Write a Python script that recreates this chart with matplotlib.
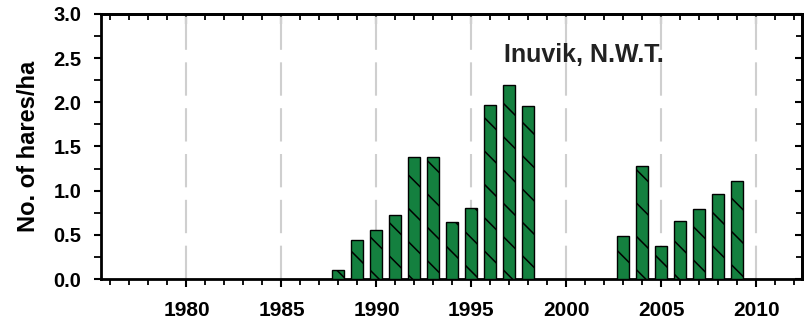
import matplotlib
matplotlib.use("Agg")
import matplotlib.pyplot as plt
from matplotlib.ticker import MultipleLocator

years = [1988, 1989, 1990, 1991, 1992, 1993, 1994, 1995, 1996, 1997, 1998,
         2003, 2004, 2005, 2006, 2007, 2008, 2009]
hares = [0.10, 0.44, 0.56, 0.72, 1.38, 1.38, 0.64, 0.80, 1.97, 2.20, 1.96,
         0.49, 1.28, 0.37, 0.66, 0.79, 0.96, 1.11]
xticks = [1980, 1985, 1990, 1995, 2000, 2005, 2010]
yticks = [0.0, 0.5, 1.0, 1.5, 2.0, 2.5, 3.0]
site_label = "Inuvik, N.W.T."
ylabel = "No. of hares/ha"

plt.rcParams['font.family'] = ['Liberation Sans', 'DejaVu Sans']
plt.rcParams['font.weight'] = 'bold'
plt.rcParams['hatch.color'] = 'black'
plt.rcParams['hatch.linewidth'] = 1.1

fig = plt.figure(figsize=(8.06, 3.23), dpi=100)
ax = fig.add_axes([0.1253, 0.1362, 0.995 - 0.1253, 0.9567 - 0.1362])

ax.bar(years, hares, width=0.63, color='#14803f', edgecolor='black',
       linewidth=1.0, hatch='\\', zorder=3)

ax.set_xlim(1975.5, 2012.4)
ax.set_ylim(0, 3.0)
ax.set_xticks(xticks)
ax.set_yticks(yticks)
ax.set_yticklabels([f"{v:.1f}" for v in yticks])
ax.xaxis.set_minor_locator(MultipleLocator(1))
ax.yaxis.set_minor_locator(MultipleLocator(0.25))

ax.xaxis.grid(True, which='major', color='#cfcfcf', linewidth=1.5,
              linestyle=(0, (16, 6)), zorder=0)

for s in ax.spines.values():
    s.set_linewidth(2.0)

ax.tick_params(axis='x', which='major', direction='out', length=6, width=1.5,
               labelsize=15, pad=10, top=False)
ax.tick_params(axis='x', which='minor', direction='out', length=4, width=1.3,
               top=False)
ax.tick_params(axis='y', which='major', direction='out', length=5, width=1.5,
               labelsize=14.5, pad=9, right=False)
ax.tick_params(axis='y', which='minor', direction='out', length=5, width=1.3,
               right=False)

secx = ax.secondary_xaxis('top')
secx.set_xticks(xticks)
secx.xaxis.set_minor_locator(MultipleLocator(1))
secx.tick_params(which='major', direction='in', length=7, width=1.5, labeltop=False)
secx.tick_params(which='minor', direction='in', length=4, width=1.3)
secx.spines['top'].set_linewidth(2.0)

secy = ax.secondary_yaxis('right')
secy.set_yticks(yticks)
secy.yaxis.set_minor_locator(MultipleLocator(0.25))
secy.tick_params(which='major', direction='in', length=5, width=1.5, labelright=False)
secy.tick_params(which='minor', direction='in', length=4, width=1.3)
secy.spines['right'].set_linewidth(2.0)

ax.set_ylabel(ylabel, fontsize=17, fontweight='bold', labelpad=10)
ax.text(2000.9, 2.54, site_label, fontsize=18, fontweight='bold',
        color='#222222', ha='center', va='center', zorder=4)

fig.savefig("out.png", dpi=100)
